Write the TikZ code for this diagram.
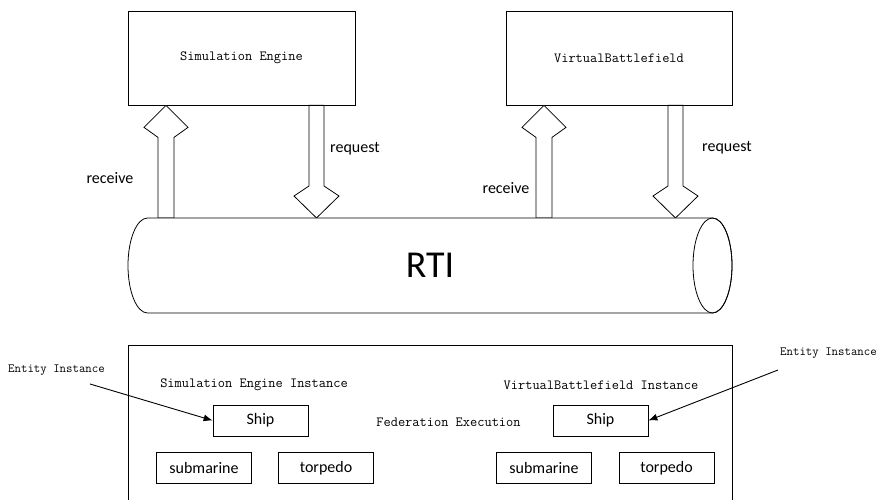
\documentclass[tikz,border=0pt]{standalone}
\usepackage{fontspec}
\setsansfont{Carlito}
\usepackage{tikz}
\usetikzlibrary{arrows.meta, calc}
\tikzset{>={Latex[length=9pt,width=7pt]}}
\tikzset{
  fedbox/.style={draw, line width=0.8pt, minimum width=227pt, minimum height=94pt, font=\fontsize{14}{16}\ttfamily},
  objbox/.style={draw, line width=0.8pt, minimum width=95pt, minimum height=31pt, inner sep=0pt, font=\fontsize{16}{18}\sffamily},
  sflabel/.style={inner sep=0pt, font=\fontsize{16}{18}\sffamily},
  ttlabel/.style={inner sep=0pt, font=\fontsize{14}{16}\ttfamily},
  blk/.style={line width=0.8pt, fill=white}
}
\newcommand{\recvarrow}[2]{%
  \draw[blk] let \p1=(#1), \p2=(#2) in
    (\x1-8pt,\y1) -- (\x1-8pt,\y2-32pt) -- (\x1-22pt,\y2-22pt) -- (\x1,\y2)
    -- (\x1+22pt,\y2-22pt) -- (\x1+8pt,\y2-32pt) -- (\x1+8pt,\y1) -- cycle;}
\newcommand{\reqarrow}[2]{%
  \draw[blk] let \p1=(#1), \p2=(#2) in
    (\x1-7.5pt,\y1) -- (\x1-7.5pt,\y2+32pt) -- (\x1-22.5pt,\y2+22pt) -- (\x1,\y2)
    -- (\x1+22.5pt,\y2+22pt) -- (\x1+7.5pt,\y2+32pt) -- (\x1+7.5pt,\y1) -- cycle;}

\begin{document}
\begin{tikzpicture}[x=1pt, y=1pt]
    \useasboundingbox (0,0) rectangle (879,500);
    \node[fedbox] (sim) at (241.5,442) {Simulation Engine};
    \node[fedbox, minimum width=226pt] (vb) at (619,442) {VirtualBattlefield};
    \coordinate (rcvA) at (166,282);
    \coordinate (reqA) at (316.5,282);
    \coordinate (rcvB) at (544,282);
    \coordinate (reqB) at (675.5,282);
    \recvarrow{rcvA}{rcvA |- sim.south}
    \reqarrow{reqA |- sim.south}{reqA}
    \recvarrow{rcvB}{rcvB |- vb.south}
    \reqarrow{reqB |- vb.south}{reqB}
    \node[sflabel] (rcvAtxt) at (110,322) {receive};
    \node[sflabel, anchor=west] (reqAtxt) at (330,351) {request};
    \node[sflabel] (rcvBtxt) at (506,312) {receive};
    \node[sflabel, anchor=west] (reqBtxt) at (702,352) {request};
    \draw[line width=0.8pt, fill=white] (147.5,282) -- (712.5,282)
      arc[start angle=90, end angle=-90, x radius=19.5, y radius=47.5]
      -- (147.5,187)
      arc[start angle=270, end angle=90, x radius=19.5, y radius=47.5] -- cycle;
    \draw[line width=0.8pt] (712.5,234.5) ellipse[x radius=19.5, y radius=47.5];
    \node[inner sep=0pt, font=\fontsize{38}{42}\sffamily] (rti) at (430,235) {RTI};
    \draw[line width=0.8pt] (128,-10) -- (128,155) -- (732,155) -- (732,-10);
    \node[ttlabel] (simins) at (254,115) {Simulation Engine Instance};
    \node[ttlabel] (vbins) at (601,115) {VirtualBattlefield Instance};
    \node[ttlabel] (fed) at (448.5,78) {Federation Execution};
    \node[objbox] (shipA) at (260.5,79.5) {Ship};
    \node[objbox] (subA) at (204,32) {submarine};
    \node[objbox] (torpA) at (326,32) {torpedo};
    \node[objbox] (shipB) at (600.5,79.5) {Ship};
    \node[objbox] (subB) at (544,32) {submarine};
    \node[objbox] (torpB) at (666.5,32) {torpedo};
    \node[ttlabel, font=\fontsize{12.5}{14}\ttfamily] (entA) at (56.5,130) {Entity Instance};
    \node[ttlabel, font=\fontsize{12.5}{14}\ttfamily, anchor=east] (entB) at (877,147) {Entity Instance};
    \coordinate (entAtail) at (90,116);
    \coordinate (entBtail) at (778,130);
    \draw[->, line width=0.9pt] (entAtail) -- (shipA.west);
    \draw[->, line width=0.9pt] (entBtail) -- (shipB.east);
  \end{tikzpicture}
\end{document}
